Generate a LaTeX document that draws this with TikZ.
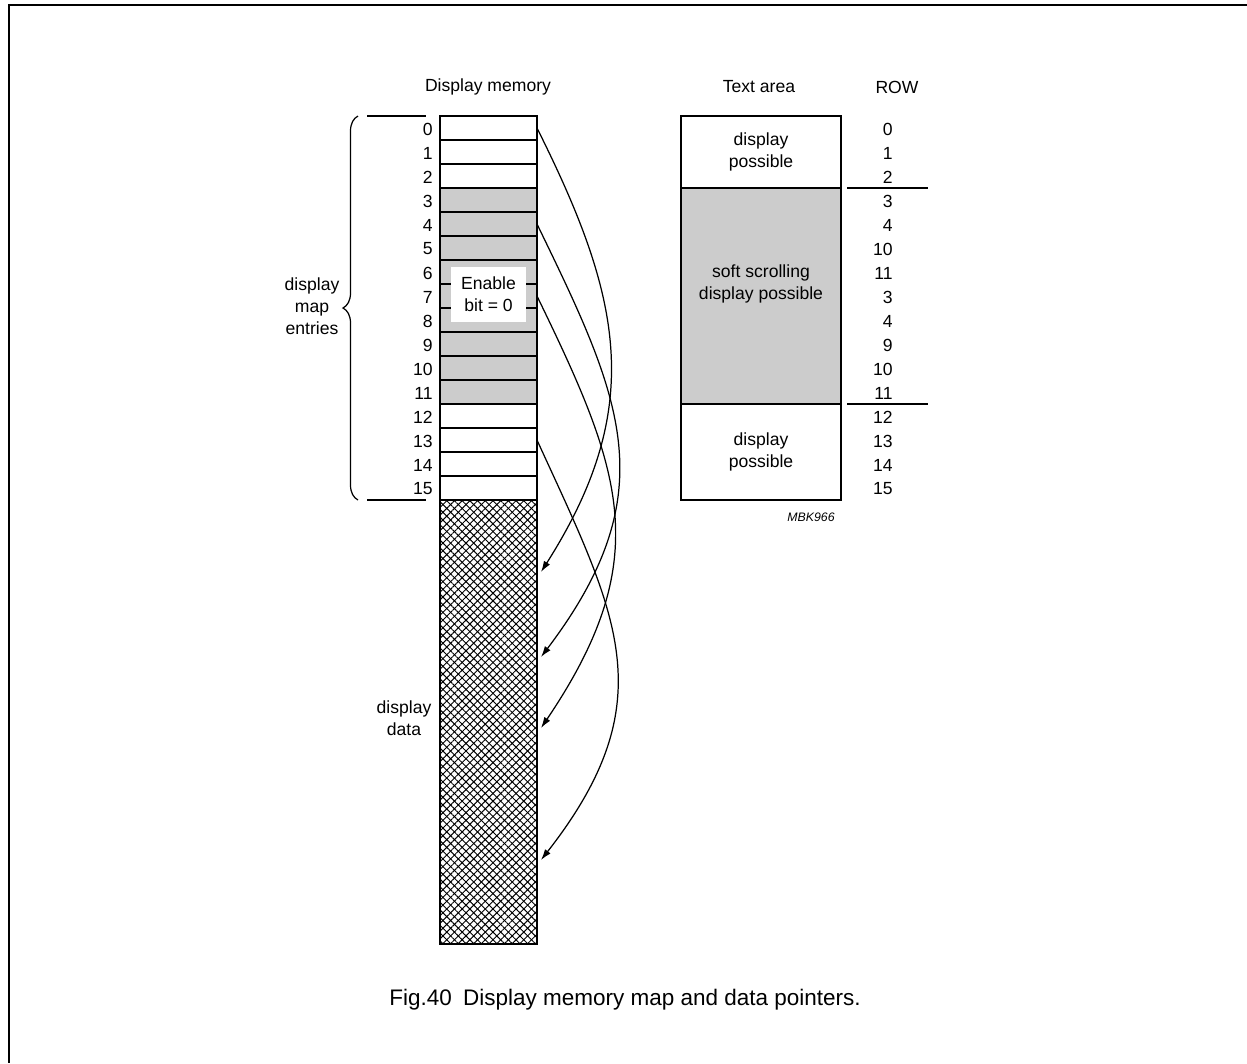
\documentclass[tikz,border=0pt]{standalone}
\usepackage{fontspec}
\setmainfont{Liberation Sans}
\usetikzlibrary{arrows.meta, positioning, patterns.meta, decorations.pathreplacing}
\definecolor{cellgray}{HTML}{CCCCCC}

\begin{document}
\begin{tikzpicture}[
    x=0.02cm, y=-0.02cm,
    font=\fontsize{10pt}{12.5pt}\selectfont,
    cell/.style={rectangle, draw, line width=0.7pt, fill=white, minimum width=1.94cm, minimum height=0.48cm, inner sep=0pt, outer sep=0pt},
    shaded/.style={cell, fill=cellgray},
    data/.style={rectangle, draw, line width=0.7pt, minimum width=1.94cm, minimum height=8.88cm, inner sep=0pt, outer sep=0pt,
        pattern={Lines[angle=45, distance=3.1pt, line width=0.55pt]},
        postaction={pattern={Lines[angle=-45, distance=3.1pt, line width=0.55pt]}}},
    tabox/.style={rectangle, draw, line width=0.7pt, fill=white, minimum width=3.2cm, inner sep=0pt, outer sep=0pt, align=center},
    lbl/.style={inner sep=0pt, anchor=east},
    ptr/.style={-{Latex[length=2.2mm, width=1.4mm]}, line width=0.7pt},
    thin/.style={line width=0.7pt},
    frame/.style={line width=1.1pt}
]
\useasboundingbox (0,0) rectangle (1247,1063);

% Frame
\draw[frame] (1247,5) -- (9,5) -- (9,1063);

% Display memory
\node (hmem) at (488,87) {Display memory};
\foreach \i in {0,1,2,12,13,14,15}
    \node[cell] (m\i) at (488.5,128+24*\i) {};
\foreach \i in {3,...,11}
    \node[shaded] (m\i) at (488.5,128+24*\i) {};
\foreach \i in {0,...,15}
    \node[lbl] (n\i) at (433,129+24*\i) {\i};
\node[data] (data) at (488.5,722) {};
\node[fill=white, minimum width=1.5cm, minimum height=1.1cm, inner sep=0pt, align=center] (enb) at (488.5,294.5) {Enable\\bit = 0};

% Brace and labels
\draw[thin] (367,116) -- (426,116);
\draw[thin] (367,500) -- (426,500);
\draw[thin, decorate, decoration={brace, amplitude=0.3cm}] (358,500) -- (358,116);
\node[align=center] (entries) at (312,306) {display\\map\\entries};
\node[align=center] (ddata) at (404,718) {display\\data};

% Text area
\node (htext) at (759,87) {Text area};
\node[tabox, minimum height=1.44cm] (ta1) at (761,152) {display\\possible};
\node[tabox, minimum height=4.32cm, fill=cellgray, below=0pt of ta1] (ta2) {};
\node[tabox, minimum height=1.92cm, below=0pt of ta2] (ta3) {display\\possible};
\node[align=center] (scroll) at (761,284) {soft scrolling\\display possible};
\node[lbl, font=\fontsize{7pt}{8pt}\selectfont\itshape] (code) at (835,517) {MBK966};

% Rows
\node (hrow) at (897,87) {ROW};
\foreach \r [count=\k from 0] in {0,1,2,3,4,10,11,3,4,9,10,11,12,13,14,15}
    \node[lbl] (r\k) at (893,129+24*\k) {\r};
\draw[thin] (847,188) -- (928,188);
\draw[thin] (847,404) -- (928,404);

% Pointers
\coordinate (p0) at (541,572);
\coordinate (p1) at (541,657);
\coordinate (p2) at (541,728);
\coordinate (p3) at (541,860);
\draw[ptr] (m0.east) .. controls +(85,170) and +(105,-165) .. (p0);
\draw[ptr] (m4.east) .. controls +(85,175) and +(125,-165) .. (p1);
\draw[ptr] (m7.east) .. controls +(85,175) and +(115,-170) .. (p2);
\draw[ptr] (m13.east) .. controls +(80,175) and +(125,-160) .. (p3);

% Caption
\node[font=\fontsize{12.8pt}{15pt}\selectfont] (cap) at (625,1000) {Fig.40\enspace Display memory map and data pointers.};

\end{tikzpicture}
\end{document}
